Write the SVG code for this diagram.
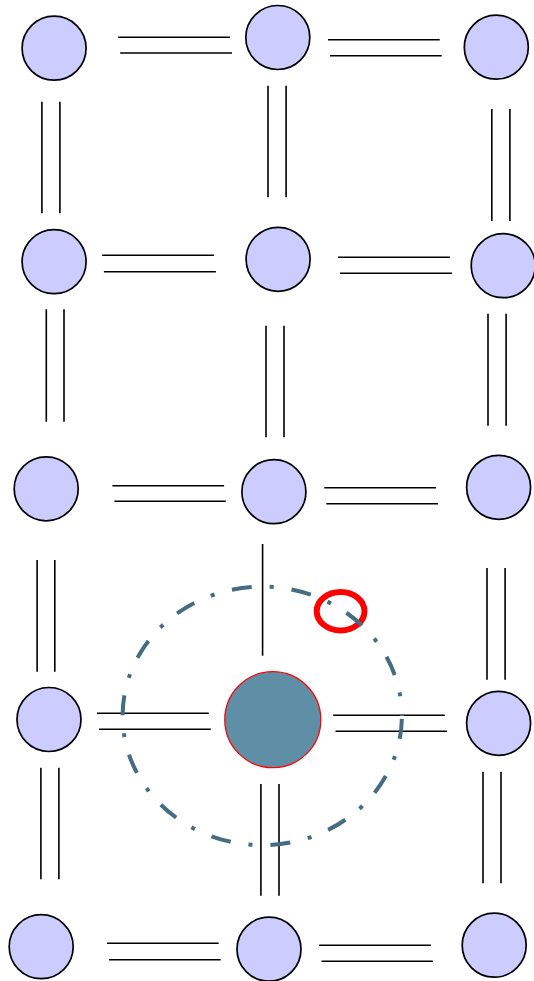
<svg xmlns="http://www.w3.org/2000/svg" width="534" height="981" viewBox="0 0 534 981">
  <style>
    .node { fill: #ccccff; stroke: #000; stroke-width: 1.7; }
    .hub { fill: #5e8fa6; stroke: #ff0000; stroke-width: 1.3; }
    .link { stroke: #000; stroke-width: 1.6; fill: none; }
    .ring { fill: none; stroke: #ff0000; stroke-width: 6; }
    .zone { fill: none; stroke: #456c80; stroke-width: 4; stroke-dasharray: 20 18 4 18; stroke-dashoffset: 57; }
  </style>
  <rect width="534" height="981" fill="#fff"/>

  <!-- connectors -->
  <g id="connectors">
    <!-- row 1 -->
    <path class="link" d="M118.2 37.3H229.9M120.2 53H232"/>
    <path class="link" d="M328 39.7H439.7M330 55.7H441.7"/>
    <!-- row 1 to row 2 -->
    <path class="link" d="M41.9 101.7V213.3M59.9 101.7V213.3"/>
    <path class="link" d="M268 85.7V197.3M286.1 85.7V197.3"/>
    <path class="link" d="M491.8 109V221M509.9 109V221"/>
    <!-- row 2 -->
    <path class="link" d="M102.2 255.3H213.9M103.9 271.7H215.9"/>
    <path class="link" d="M337.9 257.3H449.9M339.9 273.3H452"/>
    <!-- row 2 to row 3 -->
    <path class="link" d="M46.3 309.3V421.7M64 309.3V421.7"/>
    <path class="link" d="M266 325.7V437.3M284 325.7V437.3"/>
    <path class="link" d="M488 313.7V425.7M506.1 313.7V425.7"/>
    <!-- row 3 -->
    <path class="link" d="M112.4 485.7H224.1M114.4 501.3H225.8"/>
    <path class="link" d="M324.3 487.7H436M326.3 503.7H438"/>
    <!-- row 3 to row 4 -->
    <path class="link" d="M37.1 560V671.7M54.8 560V671.7"/>
    <path class="link" d="M262.6 544V655.7"/>
    <path class="link" d="M487 568V679.7M505.1 568V679.7"/>
    <!-- row 4 -->
    <path class="link" d="M97 713.3H208.8M99.1 729.3H210.8"/>
    <path class="link" d="M333.1 715.3H444.8M335.5 731.3H446.9"/>
    <!-- row 4 to row 5 -->
    <path class="link" d="M40.9 767.7V879.3M58.9 767.7V879.3"/>
    <path class="link" d="M260.9 784V895.7M279 784V895.7"/>
    <path class="link" d="M483 771.7V883.3M501 771.7V883.3"/>
    <!-- row 5 -->
    <path class="link" d="M107 943.3H218.7M109 959.7H220.7"/>
    <path class="link" d="M319.1 945.3H430.9M321.5 961.3H432.9"/>
  </g>

  <!-- nodes -->
  <g id="n00"><circle class="node" cx="54.1" cy="48.2" r="32"/></g>
  <g id="n10"><circle class="node" cx="277.8" cy="37.5" r="32"/></g>
  <g id="n20"><circle class="node" cx="496.3" cy="47.2" r="32"/></g>

  <g id="n01"><circle class="node" cx="54.1" cy="261.7" r="32"/></g>
  <g id="n11"><circle class="node" cx="278.1" cy="259.3" r="32"/></g>
  <g id="n21"><circle class="node" cx="503.2" cy="265.7" r="32"/></g>

  <g id="n02"><circle class="node" cx="46.2" cy="488.8" r="32"/></g>
  <g id="n12"><circle class="node" cx="273.9" cy="491.7" r="32"/></g>
  <g id="n22"><circle class="node" cx="498.6" cy="487.3" r="32"/></g>

  <g id="n03"><circle class="node" cx="49" cy="719.5" r="32"/></g>
  <g id="hub"><circle class="hub" cx="272.8" cy="719.7" r="48"/></g>
  <g id="n23"><circle class="node" cx="498.6" cy="723.3" r="32"/></g>

  <g id="n04"><circle class="node" cx="41.2" cy="946.7" r="32"/></g>
  <g id="n14"><circle class="node" cx="269" cy="949.2" r="32"/></g>
  <g id="n24"><circle class="node" cx="494.2" cy="945.2" r="32"/></g>

  <!-- highlight marker -->
  <g id="marker"><ellipse class="ring" cx="340.6" cy="611.2" rx="23.9" ry="19.2"/></g>

  <!-- range boundary around the hub -->
  <g id="range">
    <path class="zone" d="M401.9 715.9A139.6 129.2 0 0 1 122.6 715.9A139.6 129.2 0 0 1 401.9 715.9Z"/>
  </g>
</svg>
